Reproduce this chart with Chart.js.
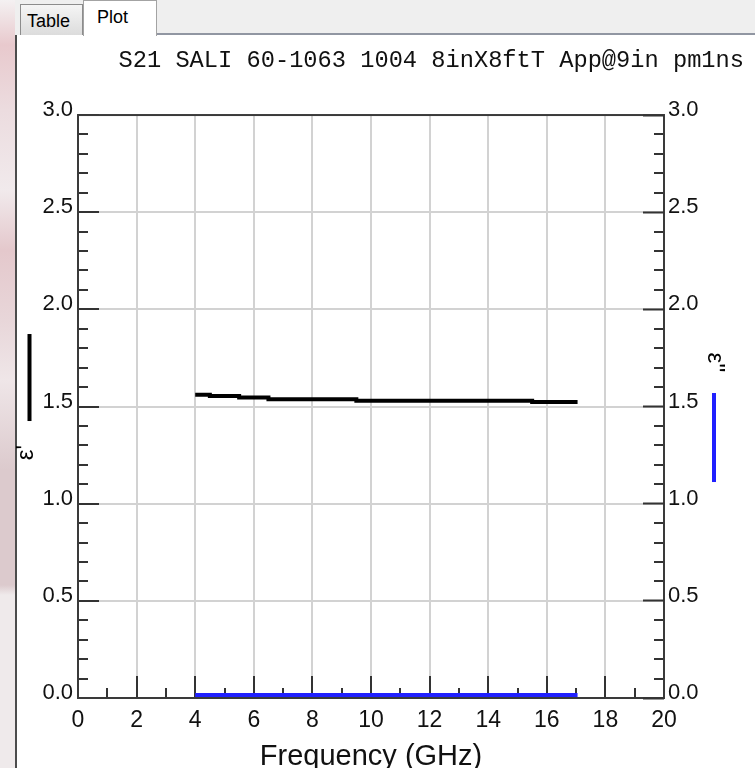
<!DOCTYPE html>
<html>
<head>
<meta charset="utf-8">
<script src="https://cdn.jsdelivr.net/npm/chart.js@4.4.1/dist/chart.umd.min.js"></script>
<style>
html,body{margin:0;padding:0;width:755px;height:768px;overflow:hidden;background:#efefef;font-family:"Liberation Sans",Arial,sans-serif;}
#strip{position:absolute;left:0;top:0;width:15px;height:768px;
  background:linear-gradient(to bottom,#f4f1f2 0px,#e8c9cd 45px,#ecdcdf 110px,#f1eaec 190px,#e4c8cc 250px,#e8d6d9 320px,#efe6e8 380px,#dccacd 470px,#dccacd 585px,#efeaeb 595px,#efeaeb 768px);}
#panel{position:absolute;left:15px;top:35px;width:738px;height:733px;background:#fff;border-left:2px solid #4c4c4c;}
#panelTop{position:absolute;left:157px;top:33px;width:598px;height:2px;background:#9196a2;}
.tab{position:absolute;box-sizing:border-box;font-size:18px;color:#000;}
#tabTable{left:20px;top:4px;width:63px;height:31px;border:1px solid #8c8c8c;border-bottom:none;background:linear-gradient(#f5f5f5,#dcdcdc);padding-left:6px;line-height:32px;}
#tabPlot{left:83px;top:0px;width:74px;height:36px;border:1px solid #a3a3a3;border-bottom:none;background:#fff;padding-left:13px;line-height:32px;}
#c{position:absolute;left:0;top:0;}
</style>
</head>
<body>
<div id="strip"></div>
<div id="panel"></div>
<div id="panelTop"></div>
<div class="tab" id="tabTable">Table</div>
<div class="tab" id="tabPlot">Plot</div>
<canvas id="c" width="755" height="768"></canvas>
<script>
// ---- data ----
const chartTitle = 'S21 SALI 60-1063 1004 8inX8ftT App@9in pm1ns';
const xAxisTitle = 'Frequency (GHz)';
const leftAxisTitle = "\u03b5'";
const rightAxisTitle = "\u03b5''";
const freqGHz = [4, 4.5, 5.5, 6.5, 9.5, 15.5, 17.05];
const epsReal = [1.561, 1.554, 1.546, 1.537, 1.530, 1.523, 1.523];
const epsImag = [0.015, 0.015, 0.015, 0.015, 0.015, 0.015, 0.015];
const xTickValues = [0, 2, 4, 6, 8, 10, 12, 14, 16, 18, 20];
const yTickLabels = ['0.0', '0.5', '1.0', '1.5', '2.0', '2.5', '3.0'];

const FONT = '"Liberation Sans", Arial, sans-serif';
const tickCol = '#333';
const gridCol = '#d2d2d2';

const decorPlugin = {
  id: 'decor',
  beforeDatasetsDraw(chart) {
    const {ctx, chartArea: a, scales} = chart;
    ctx.save();
    ctx.strokeStyle = tickCol;
    ctx.lineWidth = 2;
    ctx.beginPath();
    for (let i = 1; i < 30; i++) {
      if (i % 5 === 0) continue;
      const y = Math.round(scales.y.getPixelForValue(i / 10));
      ctx.moveTo(a.left, y); ctx.lineTo(a.left + 10, y);
      ctx.moveTo(a.right, y); ctx.lineTo(a.right - 10, y);
    }
    for (let i = 1; i < 20; i += 2) {
      const x = Math.round(scales.x.getPixelForValue(i));
      ctx.moveTo(x, a.bottom); ctx.lineTo(x, a.bottom - 10);
    }
    ctx.stroke();
    ctx.strokeStyle = '#3a3a3a';
    ctx.strokeRect(a.left, a.top, a.right - a.left, a.bottom - a.top);
    ctx.restore();
  },
  afterDraw(chart) {
    const {ctx, chartArea: a} = chart;
    const mid = (a.top + a.bottom) / 2;
    ctx.save();
    // left legend bar + title
    ctx.fillStyle = '#000';
    ctx.fillRect(27.5, mid - 72.5, 4, 87);
    ctx.font = '24px ' + FONT;
    ctx.textAlign = 'center';
    ctx.textBaseline = 'alphabetic';
    ctx.save();
    ctx.translate(33, mid + 46);
    ctx.rotate(-Math.PI / 2);
    ctx.fillText(leftAxisTitle, 0, 0);
    ctx.restore();
    // right legend bar + title
    ctx.fillStyle = '#2020ff';
    ctx.fillRect(712, mid - 13.5, 4, 89);
    ctx.fillStyle = '#000';
    ctx.save();
    ctx.translate(708, mid - 44);
    ctx.rotate(Math.PI / 2);
    ctx.fillText(rightAxisTitle, 0, 0);
    ctx.restore();
    ctx.restore();
  }
};

const yTickCb = (v) => {
  const idx = Math.round(v / 0.5);
  return yTickLabels[idx] !== undefined ? yTickLabels[idx] : '';
};

new Chart(document.getElementById('c'), {
  type: 'line',
  data: {
    datasets: [
      {
        label: leftAxisTitle,
        data: freqGHz.map((f, i) => ({x: f, y: epsReal[i]})),
        borderColor: '#000',
        borderWidth: 4,
        pointRadius: 0,
        stepped: true,
        fill: false,
        yAxisID: 'y'
      },
      {
        label: rightAxisTitle,
        data: freqGHz.map((f, i) => ({x: f, y: epsImag[i]})),
        borderColor: '#2020ff',
        borderWidth: 4,
        pointRadius: 0,
        tension: 0,
        fill: false,
        yAxisID: 'y2'
      }
    ]
  },
  options: {
    responsive: false,
    animation: false,
    devicePixelRatio: 1,
    layout: {padding: {left: 0, right: 11, top: 0, bottom: 0}},
    plugins: {
      legend: {display: false},
      tooltip: {enabled: false},
      title: {
        display: true,
        text: chartTitle,
        align: 'end',
        color: '#111',
        font: {family: '"Liberation Mono", "DejaVu Sans Mono", monospace', size: 23.7, weight: 'normal', lineHeight: 1.2},
        padding: {top: 47, bottom: 39.6}
      }
    },
    scales: {
      x: {
        type: 'linear',
        position: 'bottom',
        min: 0, max: 20,
        afterFit(s) { s.height = 70; },
        afterBuildTicks(s) { s.ticks = xTickValues.map(v => ({value: v})); },
        ticks: {
          autoSkip: false, maxRotation: 0, padding: 31,
          color: '#111', font: {family: FONT, size: 23},
          callback: (v) => String(v)
        },
        grid: {
          color: (ctx) => (ctx.tick && (ctx.tick.value === 0 || ctx.tick.value === 20)) ? 'rgba(0,0,0,0)' : gridCol,
          lineWidth: 2, tickLength: -22, tickColor: tickCol, tickWidth: 2
        },
        border: {display: false},
        title: {display: true, text: xAxisTitle, color: '#111', font: {family: FONT, size: 29, lineHeight: 0.75}, padding: 0}
      },
      y: {
        type: 'linear',
        position: 'left',
        min: 0, max: 3,
        afterFit(s) { s.width = 78; },
        ticks: {
          stepSize: 0.5, autoSkip: false, padding: 26, labelOffset: -5,
          color: '#111', font: {family: FONT, size: 22},
          callback: yTickCb
        },
        grid: {
          color: (ctx) => (ctx.tick && (ctx.tick.value === 0 || ctx.tick.value === 3)) ? 'rgba(0,0,0,0)' : gridCol,
          lineWidth: 2, tickLength: -21, tickColor: tickCol, tickWidth: 2
        },
        border: {display: false}
      },
      y2: {
        type: 'linear',
        position: 'right',
        min: 0, max: 3,
        afterFit(s) { s.width = 80; },
        ticks: {
          stepSize: 0.5, autoSkip: false, padding: 25, labelOffset: -5,
          color: '#111', font: {family: FONT, size: 22},
          callback: yTickCb
        },
        grid: {drawOnChartArea: false, tickLength: -21, tickColor: tickCol, tickWidth: 2, z: 1},
        border: {display: false}
      }
    }
  },
  plugins: [decorPlugin]
});
</script>
</body>
</html>
